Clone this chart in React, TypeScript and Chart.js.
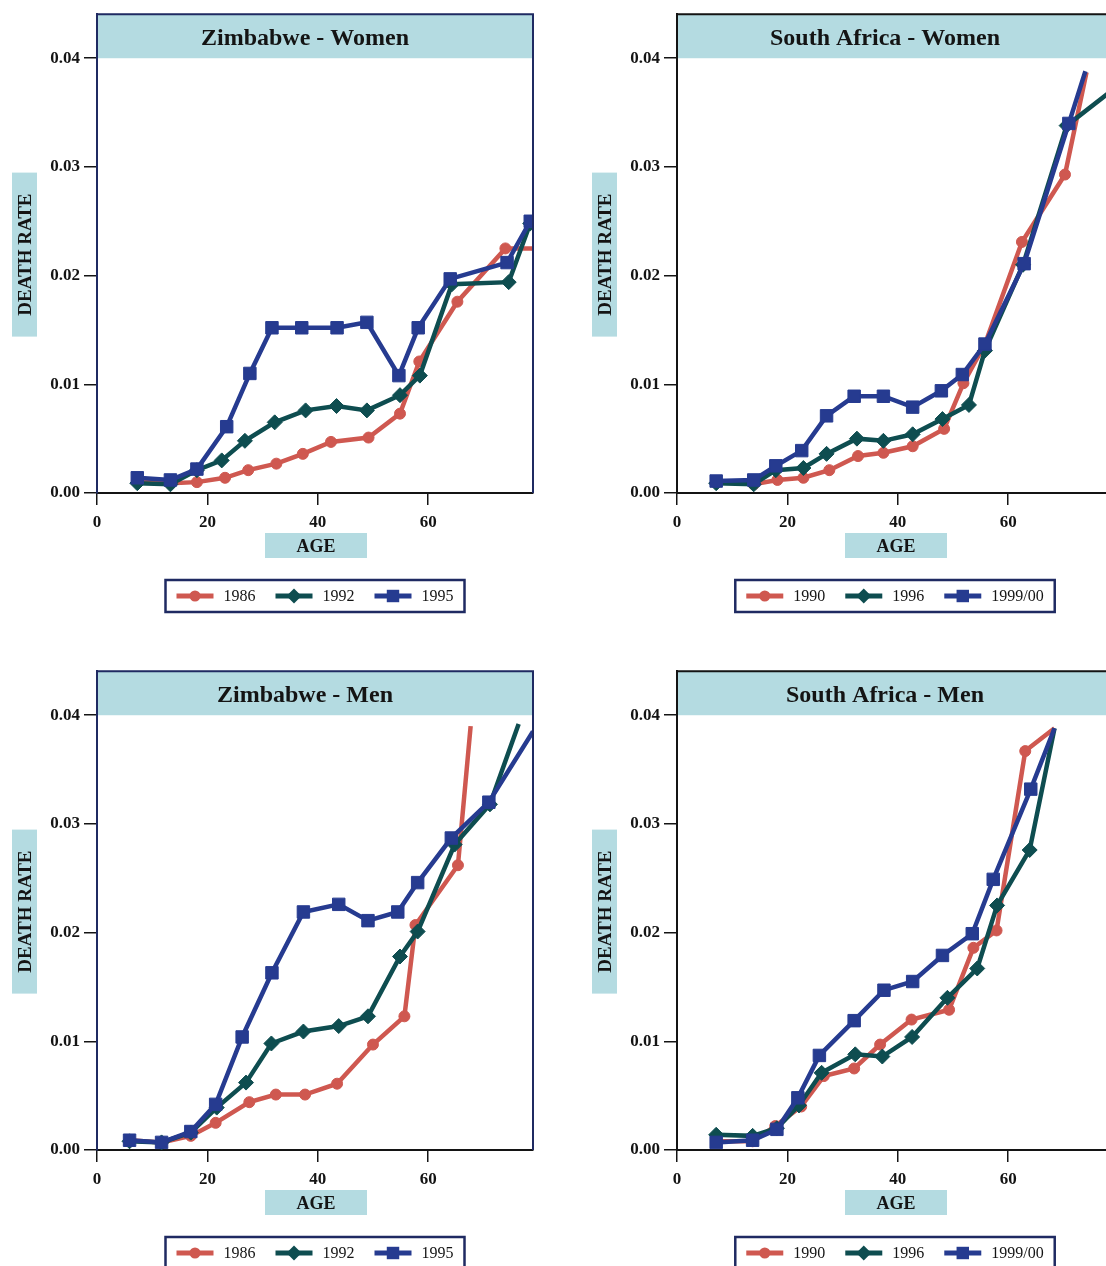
import React, { useEffect, useRef } from "react";
import { Chart, registerables } from "chart.js";

Chart.register(...registerables);

// ---------- DATA ----------
const yTicks = [0, 0.01, 0.02, 0.03, 0.04];
const xTicks = [0, 20, 40, 60];

// Zimbabwe - Women
const zwWomenAges1986 = [7.3, 13.3, 18.1, 23.2, 27.4, 32.5, 37.3, 42.4, 49.2, 54.9, 58.4, 65.3, 74.0, 79.0];
const zwWomen1986 = [0.0012, 0.0009, 0.001, 0.0014, 0.0021, 0.0027, 0.0036, 0.0047, 0.0051, 0.0073, 0.0121, 0.0176, 0.0225, 0.0225];
const zwWomenAges1992 = [7.3, 13.3, 18.1, 22.6, 26.8, 32.2, 37.8, 43.4, 48.9, 54.9, 58.5, 64.3, 74.6, 78.5];
const zwWomen1992 = [0.0009, 0.0008, 0.0021, 0.003, 0.0048, 0.0065, 0.0076, 0.008, 0.0076, 0.009, 0.0108, 0.0192, 0.0194, 0.0248];
const zwWomenAges1995 = [7.3, 13.3, 18.1, 23.5, 27.7, 31.7, 37.1, 43.5, 48.9, 54.7, 58.2, 64.0, 74.3, 78.5];
const zwWomen1995 = [0.0014, 0.0012, 0.0022, 0.0061, 0.011, 0.0152, 0.0152, 0.0152, 0.0157, 0.0108, 0.0152, 0.0197, 0.0212, 0.025];

// South Africa - Women
const saWomenAges1990 = [7.1, 13.9, 18.2, 22.9, 27.6, 32.8, 37.4, 42.7, 48.4, 51.9, 55.8, 62.5, 70.3, 74.2];
const saWomen1990 = [0.0011, 0.0008, 0.0012, 0.0014, 0.0021, 0.0034, 0.0037, 0.0043, 0.0059, 0.0101, 0.0137, 0.0231, 0.0293, 0.0387];
const saWomenAges1996 = [7.1, 13.9, 17.9, 22.9, 27.1, 32.6, 37.4, 42.7, 48.1, 52.9, 55.8, 62.7, 70.6, 80.0];
const saWomen1996 = [0.0009, 0.0008, 0.0021, 0.0023, 0.0036, 0.005, 0.0048, 0.0054, 0.0068, 0.0081, 0.0131, 0.021, 0.0338, 0.0375];
const saWomenAges1999 = [7.1, 13.9, 17.9, 22.6, 27.1, 32.1, 37.4, 42.7, 47.9, 51.7, 55.8, 62.9, 71.0, 74.0];
const saWomen1999 = [0.0011, 0.0012, 0.0025, 0.0039, 0.0071, 0.0089, 0.0089, 0.0079, 0.0094, 0.0109, 0.0137, 0.0211, 0.034, 0.0388];

// Zimbabwe - Men
const zwMenAges1986 = [5.9, 11.7, 17.0, 21.5, 27.6, 32.4, 37.7, 43.5, 50.0, 55.7, 57.7, 65.4, 67.7];
const zwMen1986 = [0.0009, 0.0007, 0.0013, 0.0025, 0.0044, 0.0051, 0.0051, 0.0061, 0.0097, 0.0123, 0.0207, 0.0262, 0.039];
const zwMenAges1992 = [5.9, 11.7, 17.0, 21.7, 27.0, 31.6, 37.4, 43.8, 49.1, 54.9, 58.1, 64.8, 71.2, 76.4];
const zwMen1992 = [0.0008, 0.0007, 0.0016, 0.0039, 0.0062, 0.0098, 0.0109, 0.0114, 0.0123, 0.0178, 0.0201, 0.0281, 0.0318, 0.0392];
const zwMenAges1995 = [5.9, 11.7, 17.0, 21.5, 26.3, 31.7, 37.4, 43.8, 49.1, 54.5, 58.1, 64.2, 71.0, 79.0];
const zwMen1995 = [0.0009, 0.0007, 0.0017, 0.0042, 0.0104, 0.0163, 0.0219, 0.0226, 0.0211, 0.0219, 0.0246, 0.0287, 0.032, 0.0385];

// South Africa - Men
const saMenAges1990 = [7.1, 13.7, 17.8, 22.5, 26.6, 32.1, 36.8, 42.5, 49.3, 53.7, 57.9, 63.1, 68.4];
const saMen1990 = [0.0008, 0.0008, 0.0022, 0.004, 0.0068, 0.0075, 0.0097, 0.012, 0.0129, 0.0186, 0.0202, 0.0367, 0.0388];
const saMenAges1996 = [7.1, 13.7, 18.1, 22.1, 26.2, 32.3, 37.2, 42.6, 49.0, 54.4, 58.0, 63.9, 68.4];
const saMen1996 = [0.0014, 0.0013, 0.002, 0.0041, 0.0071, 0.0088, 0.0086, 0.0104, 0.014, 0.0167, 0.0225, 0.0276, 0.0388];
const saMenAges1999 = [7.1, 13.7, 18.1, 21.9, 25.8, 32.1, 37.5, 42.7, 48.1, 53.5, 57.3, 64.1, 68.4];
const saMen1999 = [0.0007, 0.0009, 0.0019, 0.0048, 0.0087, 0.0119, 0.0147, 0.0155, 0.0179, 0.0199, 0.0249, 0.0332, 0.0388];

// ---------- STYLE ----------
const SERIF = "'Liberation Serif', 'Times New Roman', serif";
const RED = "#cf5850";
const TEAL = "#0e4d50";
const BLUE = "#263b90";
const BAND = "#b4dbe1";
const NAVY = "#1f2a62";
const INK = "#141414";

type Marker = "circle" | "rectRot" | "rect";
interface SeriesCfg {
  label: string;
  ages: number[];
  values: number[];
  color: string;
  marker: Marker;
  hideLast: boolean;
}
interface PanelCfg {
  title: string;
  left: number;
  top: number;
  frame: string;
  series: SeriesCfg[];
}

const markerRadius: Record<Marker, number> = { circle: 5.5, rectRot: 7.5, rect: 8.8 };

const panels: PanelCfg[] = [
  {
    title: "Zimbabwe - Women",
    left: 0,
    top: 0,
    frame: NAVY,
    series: [
      { label: "1986", ages: zwWomenAges1986, values: zwWomen1986, color: RED, marker: "circle", hideLast: true },
      { label: "1992", ages: zwWomenAges1992, values: zwWomen1992, color: TEAL, marker: "rectRot", hideLast: false },
      { label: "1995", ages: zwWomenAges1995, values: zwWomen1995, color: BLUE, marker: "rect", hideLast: false },
    ],
  },
  {
    title: "South Africa - Women",
    left: 580,
    top: 0,
    frame: INK,
    series: [
      { label: "1990", ages: saWomenAges1990, values: saWomen1990, color: RED, marker: "circle", hideLast: true },
      { label: "1996", ages: saWomenAges1996, values: saWomen1996, color: TEAL, marker: "rectRot", hideLast: true },
      { label: "1999/00", ages: saWomenAges1999, values: saWomen1999, color: BLUE, marker: "rect", hideLast: true },
    ],
  },
  {
    title: "Zimbabwe - Men",
    left: 0,
    top: 657,
    frame: NAVY,
    series: [
      { label: "1986", ages: zwMenAges1986, values: zwMen1986, color: RED, marker: "circle", hideLast: true },
      { label: "1992", ages: zwMenAges1992, values: zwMen1992, color: TEAL, marker: "rectRot", hideLast: true },
      { label: "1995", ages: zwMenAges1995, values: zwMen1995, color: BLUE, marker: "rect", hideLast: true },
    ],
  },
  {
    title: "South Africa - Men",
    left: 580,
    top: 657,
    frame: INK,
    series: [
      { label: "1990", ages: saMenAges1990, values: saMen1990, color: RED, marker: "circle", hideLast: true },
      { label: "1996", ages: saMenAges1996, values: saMen1996, color: TEAL, marker: "rectRot", hideLast: true },
      { label: "1999/00", ages: saMenAges1999, values: saMen1999, color: BLUE, marker: "rect", hideLast: true },
    ],
  },
];

const CW = 553;
const CH = 640;

function drawMarker(ctx: CanvasRenderingContext2D, m: Marker, x: number, y: number, color: string) {
  const r = markerRadius[m];
  ctx.fillStyle = color;
  ctx.beginPath();
  if (m === "circle") {
    ctx.arc(x, y, r, 0, Math.PI * 2);
  } else if (m === "rect") {
    const s = r * Math.SQRT1_2;
    ctx.rect(x - s, y - s, 2 * s, 2 * s);
  } else {
    ctx.moveTo(x, y - r);
    ctx.lineTo(x + r, y);
    ctx.lineTo(x, y + r);
    ctx.lineTo(x - r, y);
    ctx.closePath();
  }
  ctx.fill();
}

function makeDecor(cfg: PanelCfg) {
  return {
    id: "decor",
    afterDatasetsDraw(chart: any) {
      const { ctx, chartArea: ca, scales } = chart;
      const yBand = scales.y.getPixelForValue(0.04);
      ctx.save();
      ctx.fillStyle = BAND;
      ctx.fillRect(ca.left, ca.top, ca.right - ca.left, yBand - ca.top);
      ctx.fillStyle = INK;
      ctx.font = `bold 24px ${SERIF}`;
      ctx.textAlign = "center";
      ctx.textBaseline = "alphabetic";
      ctx.fillText(cfg.title, (ca.left + ca.right) / 2 - 10, (ca.top + yBand) / 2 + 9);
      // frame: left, top, right
      ctx.strokeStyle = cfg.frame;
      ctx.lineWidth = 2;
      ctx.beginPath();
      ctx.moveTo(ca.left, ca.bottom);
      ctx.lineTo(ca.left, ca.top);
      ctx.lineTo(ca.right, ca.top);
      ctx.lineTo(ca.right, ca.bottom);
      ctx.stroke();
      ctx.restore();
    },
    afterDraw(chart: any) {
      const { ctx, chartArea: ca } = chart;
      const cx = (ca.left + ca.right) / 2;
      ctx.save();
      // y axis title
      const yMid = (ca.top + ca.bottom) / 2 + 1;
      ctx.fillStyle = BAND;
      ctx.fillRect(12, yMid - 82, 25, 164);
      ctx.save();
      ctx.translate(25, yMid);
      ctx.rotate(-Math.PI / 2);
      ctx.fillStyle = INK;
      ctx.font = `bold 19px ${SERIF}`;
      ctx.textAlign = "center";
      ctx.textBaseline = "middle";
      ctx.fillText("DEATH RATE", 0, 1);
      ctx.restore();
      // x axis title
      const ageTop = ca.bottom + 40;
      ctx.fillStyle = BAND;
      ctx.fillRect(cx - 50, ageTop, 102, 25);
      ctx.fillStyle = INK;
      ctx.font = `bold 18px ${SERIF}`;
      ctx.textAlign = "center";
      ctx.textBaseline = "alphabetic";
      ctx.fillText("AGE", cx + 1, ageTop + 19);
      // legend
      ctx.font = `16px ${SERIF}`;
      const sample = 37;
      const gap = 10;
      const itemGap = 20;
      const pad = 11;
      const widths = cfg.series.map((s) => ctx.measureText(s.label).width);
      const total = widths.reduce((a, b) => a + b, 0) + cfg.series.length * (sample + gap) + itemGap * (cfg.series.length - 1) + pad * 2;
      const lTop = ca.bottom + 87;
      const lH = 32;
      const lLeft = cx - total / 2;
      ctx.strokeStyle = NAVY;
      ctx.lineWidth = 2.5;
      ctx.strokeRect(lLeft, lTop, total, lH);
      let x = lLeft + pad;
      const ly = lTop + lH / 2;
      cfg.series.forEach((s, i) => {
        ctx.strokeStyle = s.color;
        ctx.lineWidth = 5;
        ctx.beginPath();
        ctx.moveTo(x, ly);
        ctx.lineTo(x + sample, ly);
        ctx.stroke();
        drawMarker(ctx, s.marker, x + sample / 2, ly, s.color);
        x += sample + gap;
        ctx.fillStyle = INK;
        ctx.textAlign = "left";
        ctx.textBaseline = "middle";
        ctx.fillText(s.label, x, ly + 1);
        x += widths[i] + itemGap;
      });
      ctx.restore();
    },
  };
}

function buildConfig(cfg: PanelCfg): any {
  const tickFont = { family: SERIF, size: 17, weight: "bold" as const };
  return {
    type: "line",
    data: {
      datasets: cfg.series.map((s, i) => ({
        label: s.label,
        data: s.ages.map((a, j) => ({ x: a, y: s.values[j] })),
        borderColor: s.color,
        backgroundColor: s.color,
        borderWidth: 4.5,
        pointStyle: s.marker,
        pointRadius: (c: any) => (s.hideLast && c.dataIndex === s.ages.length - 1 ? 0 : markerRadius[s.marker]),
        pointBorderWidth: 1,
        pointBorderColor: s.color,
        pointBackgroundColor: s.color,
        tension: 0,
        spanGaps: true,
        order: cfg.series.length - i,
      })),
    },
    options: {
      animation: false,
      responsive: false,
      maintainAspectRatio: false,
      events: [],
      layout: { padding: { top: 14, right: 20, bottom: 0, left: 0 } },
      plugins: { legend: { display: false }, tooltip: { enabled: false }, title: { display: false } },
      scales: {
        x: {
          type: "linear",
          min: 0,
          max: 79,
          afterBuildTicks: (scale: any) => {
            scale.ticks = xTicks.map((v) => ({ value: v }));
          },
          ticks: { font: tickFont, color: INK, padding: 7, callback: (v: any) => String(v), maxRotation: 0 },
          grid: { drawOnChartArea: false, drawTicks: true, tickLength: 12, color: INK, lineWidth: 1.5 },
          border: { display: true, color: INK, width: 2 },
          afterFit: (scale: any) => {
            scale.height = 147;
          },
        },
        y: {
          type: "linear",
          min: 0,
          max: 0.04405,
          afterBuildTicks: (scale: any) => {
            scale.ticks = yTicks.map((v) => ({ value: v }));
          },
          ticks: { font: tickFont, color: INK, padding: 4, callback: (v: any) => Number(v).toFixed(2) },
          grid: { drawOnChartArea: false, drawTicks: true, tickLength: 13, color: INK, lineWidth: 1.5 },
          border: { display: true, color: cfg.frame, width: 2 },
          afterFit: (scale: any) => {
            scale.width = 97;
          },
        },
      },
    },
    plugins: [makeDecor(cfg)],
  };
}

function Panel({ cfg }: { cfg: PanelCfg }) {
  const ref = useRef<HTMLCanvasElement>(null);
  useEffect(() => {
    const chart = new Chart(ref.current as HTMLCanvasElement, buildConfig(cfg));
    return () => chart.destroy();
  }, [cfg]);
  return (
    <canvas
      ref={ref}
      width={CW}
      height={CH}
      style={{ position: "absolute", left: cfg.left, top: cfg.top, width: CW, height: CH }}
    />
  );
}

export default function App() {
  return (
    <div
      style={{
        position: "fixed",
        left: 0,
        top: 0,
        width: 1106,
        height: 1266,
        overflow: "hidden",
        background: "#ffffff",
      }}
    >
      {panels.map((p) => (
        <Panel key={p.title} cfg={p} />
      ))}
    </div>
  );
}
